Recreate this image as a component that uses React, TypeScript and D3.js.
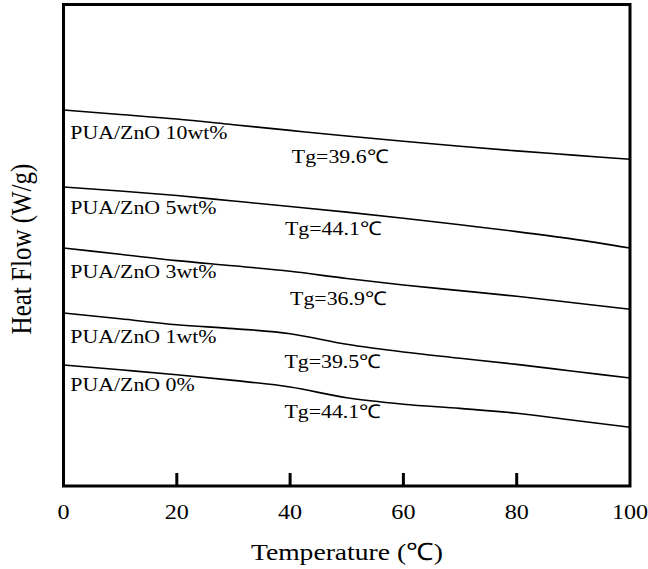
import React from "react";
import * as d3 from "d3";

const temps = [0, 10, 20, 30, 40, 50, 60, 70, 80, 90, 100];
const seriesNames = ["PUA/ZnO 10wt%", "PUA/ZnO 5wt%", "PUA/ZnO 3wt%", "PUA/ZnO 1wt%", "PUA/ZnO 0%"];
const flow10 = [37.6, 37.15, 36.7, 36.13, 35.56, 35.0, 34.47, 33.98, 33.51, 33.09, 32.67];
const flow5 = [29.9, 29.5, 29.05, 28.5, 27.95, 27.39, 26.78, 26.12, 25.44, 24.69, 23.8];
const flow3 = [23.8, 23.17, 22.54, 22.02, 21.47, 20.75, 20.1, 19.54, 18.97, 18.32, 17.67];
const flow1 = [17.3, 16.72, 16.13, 15.74, 15.23, 14.17, 13.4, 12.78, 12.16, 11.48, 10.8];
const flow0 = [12.1, 11.62, 11.13, 10.56, 9.9, 8.82, 8.18, 7.76, 7.28, 6.57, 5.87];
const tgLabels = ["Tg=39.6\u2103", "Tg=44.1\u2103", "Tg=36.9\u2103", "Tg=39.5\u2103", "Tg=44.1\u2103"];
const xTitle = "Temperature (\u2103)";
const yTitle = "Heat Flow (W/g)";
// label anchor positions in data units (temperature, heat flow)
const nameLabelPos = [[1.2, 34.67], [1.2, 27.17], [1.2, 20.77], [1.2, 14.27], [1.2, 9.53]];
const tgLabelPos = [[40.3, 32.33], [39.1, 25.1], [40, 18.1], [39, 11.77], [39, 6.77]];
const xTicks = [0, 20, 40, 60, 80, 100];

const W = 648, H = 569;
const L = 63.5, R = 630, T = 4.5, B = 486;
const SX = 1.15;
const FONT = "'Liberation Serif', 'Times New Roman', serif";

function SText({ x, y, size, anchor = "start", children, rotate = 0 }: any) {
  return (
    <g transform={`translate(${x},${y}) scale(${SX},1) rotate(${rotate})`}>
      <text x={0} y={0} fontSize={size} fontFamily={FONT} textAnchor={anchor} fill="#000">
        {children}
      </text>
    </g>
  );
}

export default function App() {
  const x = d3.scaleLinear().domain([0, 100]).range([L, R]);
  const y = d3.scaleLinear().domain([0, 48.15]).range([B, T]);
  const all = [flow10, flow5, flow3, flow1, flow0];
  const line = d3
    .line<[number, number]>()
    .x((d) => x(d[0]))
    .y((d) => y(d[1]))
    .curve(d3.curveMonotoneX);

  return (
    <svg width={W} height={H} style={{ position: "absolute", left: 0, top: 0, background: "#fff" }}>
      <rect x={0} y={0} width={W} height={H} fill="#fff" />
      {all.map((s, i) => (
        <path
          key={i}
          d={line(temps.map((t, j) => [t, s[j]]) as [number, number][]) || ""}
          fill="none"
          stroke="#000"
          strokeWidth={1.6}
        />
      ))}
      {xTicks.slice(1, -1).map((t) => (
        <line key={t} x1={x(t)} x2={x(t)} y1={B} y2={B - 13} stroke="#000" strokeWidth={3} />
      ))}
      <rect x={L} y={T} width={R - L} height={B - T} fill="none" stroke="#000" strokeWidth={3} />
      {xTicks.map((t) => (
        <SText key={t} x={x(t)} y={519} size={21} anchor="middle">
          {String(t)}
        </SText>
      ))}
      {seriesNames.map((n, i) => (
        <SText key={n} x={x(nameLabelPos[i][0])} y={y(nameLabelPos[i][1])} size={19}>
          {n}
        </SText>
      ))}
      {tgLabels.map((n, i) => (
        <SText key={i} x={x(tgLabelPos[i][0])} y={y(tgLabelPos[i][1])} size={19}>
          {n}
        </SText>
      ))}
      <SText x={347} y={560} size={24} anchor="middle">
        {xTitle}
      </SText>
      <SText x={31} y={249} size={25} anchor="middle" rotate={-90}>
        {yTitle}
      </SText>
    </svg>
  );
}
